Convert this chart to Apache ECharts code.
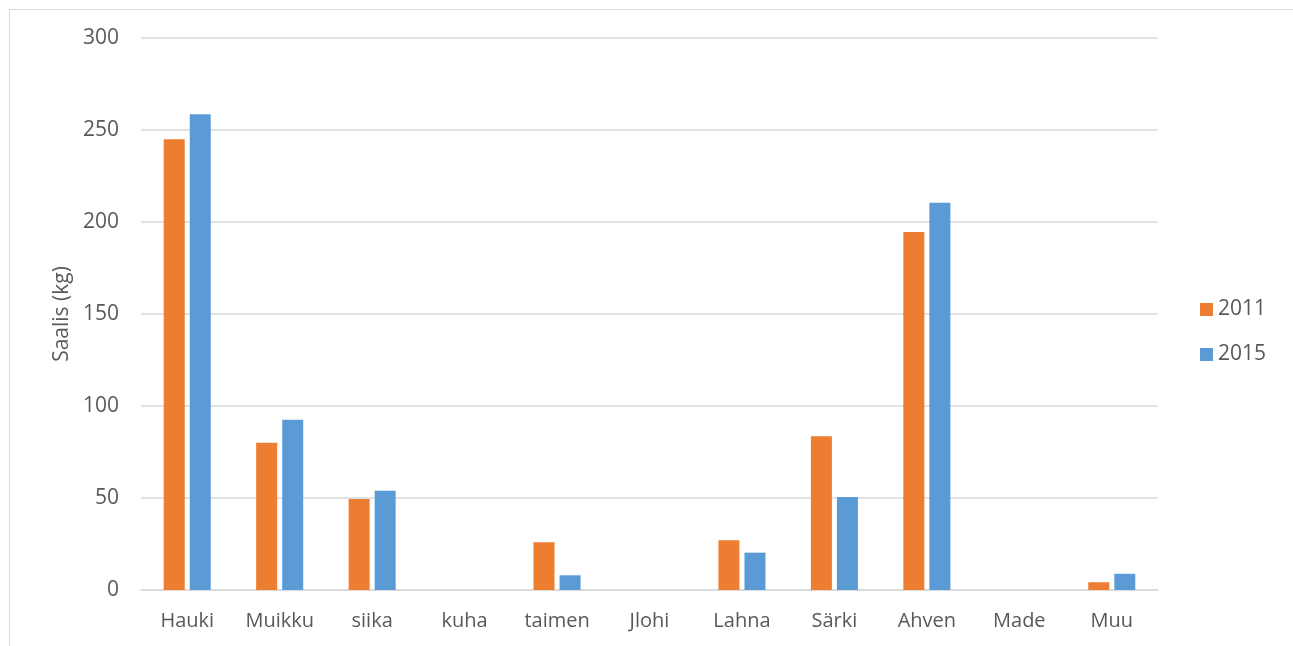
<!DOCTYPE html>
<html>
<head>
<meta charset="utf-8">
<title>Saalis</title>
<script src="https://cdn.jsdelivr.net/npm/echarts@6/dist/echarts.min.js"></script>
<style>
    html, body { margin: 0; padding: 0; background: #fff; }
    #chart { width: 1293px; height: 646px; }
</style>
</head>
<body>
<div id="chart"></div>
<script>
// kalalajit
const categories = ['Hauki', 'Muikku', 'siika', 'kuha', 'taimen', 'Jlohi', 'Lahna', 'Särki', 'Ahven', 'Made', 'Muu']
const years = ['2011', '2015']
const values2011 = [245, 80, 49.5, 0, 26, 0, 27, 83.5, 194.5, 0, 4.2]
const values2015 = [258.5, 92.5, 54, 0, 8, 0, 20.3, 50.5, 210.5, 0, 8.8]
const yTicks = { min: 0, max: 300, interval: 50 }

const fontFamily = '"Open Sans", "Noto Sans", sans-serif'
const textColor = '#595959'
const gridColor = '#d9d9d9'

const chart = echarts.init(document.getElementById('chart'))

const option = {
    backgroundColor: '#fff',
    animation: false,
    textStyle: { fontFamily: fontFamily },
    // ulkoreunus
    graphic: [
        {
            type: 'rect',
            shape: { x: 9.5, y: 9.5, width: 1400, height: 800 },
            style: { fill: 'none', stroke: '#d9d9d9', lineWidth: 1 },
            silent: true
        }
    ],
    grid: {
        left: 141,
        right: 135,
        top: 38,
        bottom: 56,
        containLabel: false
    },
    legend: {
        orient: 'vertical',
        right: 22,
        top: 294,
        itemWidth: 13,
        itemHeight: 13,
        itemGap: 24,
        icon: 'rect',
        textStyle: { color: textColor, fontSize: 21, fontFamily: fontFamily },
        data: years
    },
    xAxis: {
        type: 'category',
        data: categories,
        axisTick: { show: false },
        axisLine: { lineStyle: { color: gridColor, width: 1.5 } },
        axisLabel: { color: textColor, fontSize: 20, margin: 21 }
    },
    yAxis: {
        type: 'value',
        min: yTicks.min,
        max: yTicks.max,
        interval: yTicks.interval,
        name: 'Saalis (kg)',
        nameLocation: 'middle',
        nameGap: 66,
        nameTextStyle: { color: textColor, fontSize: 21 },
        axisLine: { show: false },
        axisTick: { show: false },
        axisLabel: { color: textColor, fontSize: 21, margin: 22 },
        splitLine: { lineStyle: { color: gridColor, width: 1.5 } }
    },
    series: [
        {
            name: years[0],
            type: 'bar',
            data: values2011,
            barWidth: 21,
            barGap: '24%',
            itemStyle: { color: '#ed7d31' }
        },
        {
            name: years[1],
            type: 'bar',
            data: values2015,
            barWidth: 21,
            itemStyle: { color: '#5b9bd5' }
        }
    ]
}

chart.setOption(option)
</script>
</body>
</html>
